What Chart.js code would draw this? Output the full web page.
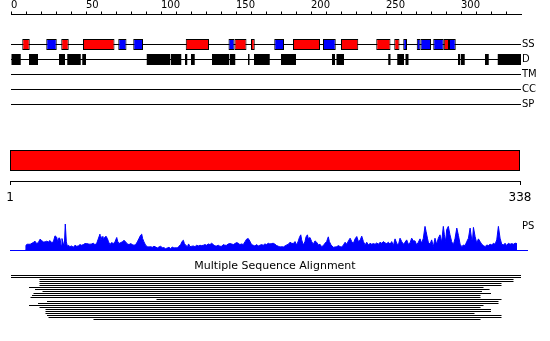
<!DOCTYPE html>
<html>
<head>
<meta charset="utf-8">
<script src="https://cdn.jsdelivr.net/npm/chart.js@4.4.1/dist/chart.umd.min.js"></script>
<style>
  html, body { margin: 0; padding: 0; background: #fff; }
  #wrap { position: relative; width: 550px; height: 341px; overflow: hidden; font-family: 'DejaVu Sans', sans-serif; }
  canvas { position: absolute; left: 0; }
  #ps { position: absolute; left: 522px; top: 220px; font-size: 10px; line-height: 12px; color: #000; }
</style>
</head>
<body>
<div id="wrap">
  <canvas id="tracks" width="550" height="112" style="top:0px"></canvas>
  <canvas id="domain" width="550" height="70" style="top:140px"></canvas>
  <canvas id="profile" width="550" height="40" style="top:215px"></canvas>
  <div id="ps">PS</div>
  <canvas id="msa" width="550" height="83" style="top:258px"></canvas>
</div>
<script>
// track names (two blank rows keep the ruler clear of the first track)
const trackLabels = ['', '', 'SS', 'D', 'TM', 'CC', 'SP'];

// secondary structure: helices (red) and strands (blue), residue ranges
const helixStart = [7.5, 33.5, 48, 116.5, 149, 160, 188, 220, 243.5, 255.5, 288.5];
const helixEnd   = [12.5, 38.5, 69, 132, 157, 162.5, 206, 231.5, 253, 259, 292];
const strandStart = [23.5, 71.5, 81.5, 145, 175.5, 208, 261.5, 270.5, 273, 281.5, 292];
const strandEnd   = [30.5, 77, 88, 149, 182, 216.5, 264, 273, 280, 288.5, 296.5];

// disordered regions
const disoStart = [0, 12, 32, 37.5, 47.5, 90.5, 106.5, 116, 120, 134, 146, 158, 162, 180, 214, 217, 251.5, 257.5, 263, 298, 300, 316, 324.5];
const disoEnd   = [6.5, 18, 36, 46.5, 50, 106, 113.5, 117.5, 122.5, 145.5, 149.5, 159, 172.5, 190, 216, 222, 253, 262, 265, 299.5, 302.5, 318.5, 340];

// domain bar
const domainStart = 1;
const domainEnd = 338;

// PS profile: [residue, score]
const psProfile = [
  [11,0],[11.2,14],[12,17],[14,17],[16,22],[17.2,26],[18.3,19],[19.4,22],[20.5,32],[21.6,28],[22.7,24],[23.8,24],[24.9,26],[26,24],[27.1,28],[28.2,22],[29.3,24],[30.4,42],[31.5,38],[32.2,24],[33,36],[33.7,34],[34.4,14],[35,34],[35.9,19],[36.6,16],[37.2,77],[37.9,24],[38.6,11],[39.2,14],[40.3,10],
  [41.4,12],[42.5,8],[43.6,14],[44.7,11],[45.8,12],[46.9,16],[48,14],[49.1,16],[50.2,19],[51.3,19],[52.4,18],[53.5,17],[54.6,18],[55.7,20],[56.8,16],[57.9,19],[60.1,47],[60.8,29],[61.5,40],[62.1,29],[63,36],[64.1,41],[65,34],[65.8,24],[66.7,16],[67.8,22],[68.9,19],[70,24],
  [71.2,37],[71.8,26],[72.7,19],[73.8,22],[74.9,24],[76,29],[77.1,24],[78.2,18],[79.3,16],[80.4,19],[81.5,16],[82.6,14],[83.7,16],[84.8,24],[85.9,34],[87,44],[87.7,47],[88.3,34],[89.2,24],[90.3,14],[91.4,10],[92.5,9],[93.6,10],[94.7,8],[95.8,11],[96.9,9],[98,6],[99.1,9],[100.2,11],
  [101.3,7],[102.4,7],[103.5,4],[104.6,6],[105.7,8],[106.8,4],[107.9,9],[109,6],[110.1,7],[111.2,6],[112.3,11],[113.4,16],[114.5,26],[115.2,29],[115.9,19],[116.8,14],[117.9,10],[118.7,18],[119.6,10],[120.7,11],[121.8,12],[122.9,10],[124,14],[125.1,12],[126.2,14],[127.3,13],[128.4,14],[129.5,16],
  [130.6,14],[131.7,18],[132.8,16],[133.9,20],[135,16],[136.1,12],[137.2,12],[138.3,14],[139.4,11],[140.5,11],[141.6,16],[142.7,14],[143.8,14],[144.9,18],[146,19],[147.1,18],[148.2,16],[149.3,19],[150.4,22],[151.5,20],[152.6,16],[153.7,18],[154.8,16],[155.9,24],[157,32],[158.1,34],[159.2,26],
  [160.3,16],[161.4,14],[162.5,12],[163.6,16],[164.7,12],[165.8,14],[166.9,16],[168,14],[169.1,18],[170.2,16],[171.3,20],[172.4,18],[173.5,19],[174.6,20],[175.8,17],[176.9,13],[178,11],[179.1,9],[180.2,10],[181.3,9],[182.4,12],[183.5,15],[184.6,17],[185.7,23],[186.8,20],[187.9,19],[189,25],
  [190.1,15],[191.2,27],[191.9,37],[192.8,45],[193.4,30],[194.5,15],[195.6,25],[196.3,39],[197.2,45],[197.8,33],[198.9,37],[200,25],[201.1,17],[202.2,27],[203.3,23],[204.4,15],[205.5,17],[206.6,10],[207.7,13],[208.8,20],[209.9,25],[211,39],[211.7,25],[212.8,15],[214.3,8],[215.5,9],
  [216.6,10],[217.7,13],[218.8,10],[219.9,9],[221,15],[222.1,23],[223.2,17],[224.3,27],[225.4,35],[226.5,25],[227.6,20],[228.7,33],[229.8,40],[230.9,25],[232,29],[233.1,41],[234.2,25],[235.3,15],[236.4,23],[237.5,15],[238.6,20],[239.7,17],[240.8,19],[241.9,17],[243,21],[244.1,17],
  [245.2,23],[246.3,20],[247.4,25],[248.5,21],[249.6,19],[250.7,23],[251.8,17],[252.9,25],[254,13],[255.1,33],[256.2,20],[257.3,15],[258.4,35],[259.5,25],[260.6,17],[261.7,23],[262.8,30],[263.9,17],[265,21],[266.1,35],[267.2,27],[268.3,27],[269.4,15],[270.5,23],[271.6,33],[272.7,20],
  [273.8,35],[274.9,70],[275.6,55],[276.5,35],[277.1,23],[278.2,17],[279.3,30],[280.4,10],[281.5,35],[282.6,17],[283.7,35],[284.8,45],[285.9,23],[287,70],[287.7,45],[288.6,25],[289.2,60],[290.3,70],[291.4,45],[292.5,25],[293.6,15],[294.7,33],[295.9,65],[297,43],[298.1,17],[299.2,10],
  [300.3,15],[301.4,13],[302.5,25],[303.6,35],[304.7,65],[305.8,30],[306.4,35],[306.9,67],[308,40],[309.1,20],[310.2,33],[311.3,25],[312.4,17],[313.5,13],[314.6,10],[315.7,15],[316.8,13],[317.9,17],[319,15],[320.1,20],[321.2,17],[322.3,30],[323.4,70],[324.5,35],[325.6,17],[326.7,15],
  [327.8,20],[328.9,13],[330,20],[331.1,17],[332.2,19],[333.3,17],[334.4,20],[335.1,20],[335.3,0]
];

// alignment hits, residue ranges
const msaStart = [0, 0, 19, 19, 19, 19, 12, 16, 21, 15, 14, 13, 97, 24, 18, 12, 19, 23, 23, 23, 24, 25, 55];
const msaEnd   = [340, 340, 335, 335, 327, 327, 315, 319, 314, 320, 313, 313, 327, 325, 325, 315, 313, 320, 320, 309, 327, 327, 313];

const FONT = 'DejaVu Sans';
Chart.defaults.font.family = FONT;
Chart.defaults.color = '#000';
const RES_PX = 510 / 337;   // px per residue on the lower ruler

const noPlugins = { legend: { display: false }, tooltip: { enabled: false } };

function ranges(starts, ends, track) {
  return starts.map((s, i) => ({ x: [s, ends[i]], y: track }));
}

// --- top: ruler + feature tracks ---
new Chart(document.getElementById('tracks'), {
  type: 'bar',
  data: {
    labels: trackLabels,
    datasets: [
      { data: ranges(helixStart, helixEnd, 'SS'), backgroundColor: '#ff0000', borderColor: '#000', borderWidth: 1,
        borderSkipped: false, barThickness: 11, grouped: false, inflateAmount: 0 },
      { data: ranges(strandStart, strandEnd, 'SS'), backgroundColor: '#0000ff', borderColor: '#000', borderWidth: 1,
        borderSkipped: false, barThickness: 11, grouped: false, inflateAmount: 0 },
      { data: ranges(disoStart, disoEnd, 'D'), backgroundColor: '#000', borderWidth: 0,
        barThickness: 11, grouped: false, inflateAmount: 0 }
    ]
  },
  options: {
    indexAxis: 'y',
    responsive: false,
    animation: false,
    layout: { padding: { left: 11, right: 0, top: 0, bottom: 7.5 } },
    plugins: noPlugins,
    scales: {
      x: {
        type: 'linear', position: 'top', min: 0, max: 340,
        afterFit: s => { s.height = 14.5; },
        afterBuildTicks: s => { s.ticks = s.ticks.filter(t => t.value <= 330); },
        ticks: { stepSize: 10, autoSkip: false, maxRotation: 0, align: 'start', padding: 0,
                 font: { size: 10 }, callback: v => (v % 50 === 0 ? String(v) : '') },
        grid: { drawOnChartArea: false, tickLength: 3, color: '#000' },
        border: { color: '#000' }
      },
      y: {
        type: 'category', position: 'right', offset: false,
        afterFit: s => { s.width = 29; },
        grid: { offset: false, drawTicks: false, color: c => (c.index >= 2 ? '#000' : 'rgba(0,0,0,0)') },
        border: { display: false },
        ticks: { padding: 1, font: { size: 10 } }
      }
    }
  }
});

// --- domain bar + lower ruler ---
new Chart(document.getElementById('domain'), {
  type: 'bar',
  data: {
    labels: ['domain'],
    datasets: [{ data: [{ x: [domainStart, domainEnd], y: 'domain' }], backgroundColor: '#ff0000', borderColor: '#000',
                 borderWidth: 1, borderSkipped: false, barThickness: 21, inflateAmount: 0 }]
  },
  options: {
    indexAxis: 'y',
    responsive: false,
    animation: false,
    layout: { padding: { left: 10, right: 30, top: 0, bottom: 0 } },
    plugins: noPlugins,
    scales: {
      x: {
        type: 'linear', position: 'bottom', min: domainStart, max: domainEnd,
        afterFit: s => { s.height = 29; },
        afterBuildTicks: s => { s.ticks = [{ value: domainStart }, { value: domainEnd }]; },
        ticks: { autoSkip: false, maxRotation: 0, padding: 6, font: { size: 12 } },
        grid: { drawOnChartArea: false, tickLength: 4, color: '#000' },
        border: { color: '#000' }
      },
      y: { display: false }
    }
  }
});

// --- PS profile ---
new Chart(document.getElementById('profile'), {
  type: 'line',
  data: {
    datasets: [{ data: psProfile.map(p => ({ x: p[0], y: p[1] })), borderColor: '#0000ff', backgroundColor: '#0000ff',
                 borderWidth: 1, fill: 'origin', pointRadius: 0, tension: 0 }]
  },
  options: {
    responsive: false,
    animation: false,
    layout: { padding: { left: 10, right: 23, top: 8, bottom: 0 } },
    plugins: noPlugins,
    scales: {
      x: {
        type: 'linear', min: 1 - 0.5 / RES_PX, max: 1 + 516.5 / RES_PX,
        afterFit: s => { s.height = 5; },
        ticks: { display: false },
        grid: { display: false },
        border: { color: '#0000ff' }
      },
      y: { display: false, min: 0, max: 80 }
    }
  }
});

// --- multiple sequence alignment ---
const msaRows = msaStart.map((s, i) => 'hit' + (i + 1));
new Chart(document.getElementById('msa'), {
  type: 'bar',
  data: {
    labels: msaRows,
    datasets: [{ data: msaStart.map((s, i) => ({ x: [s, msaEnd[i]], y: msaRows[i] })), backgroundColor: '#000',
                 borderWidth: 0, barThickness: 1, inflateAmount: 0 }]
  },
  options: {
    indexAxis: 'y',
    responsive: false,
    animation: false,
    layout: { padding: { left: 0, right: 0, top: 0, bottom: 20.5 } },
    plugins: {
      legend: { display: false },
      tooltip: { enabled: false },
      title: { display: true, text: 'Multiple Sequence Alignment', color: '#000',
               font: { size: 11, weight: 'normal', lineHeight: 1.2 }, padding: { top: 2, bottom: 1.3 } }
    },
    scales: {
      x: { type: 'linear', display: false, min: -11 / 1.5, max: (550 - 11) / 1.5 },
      y: { display: false }
    }
  }
});
</script>
</body>
</html>
